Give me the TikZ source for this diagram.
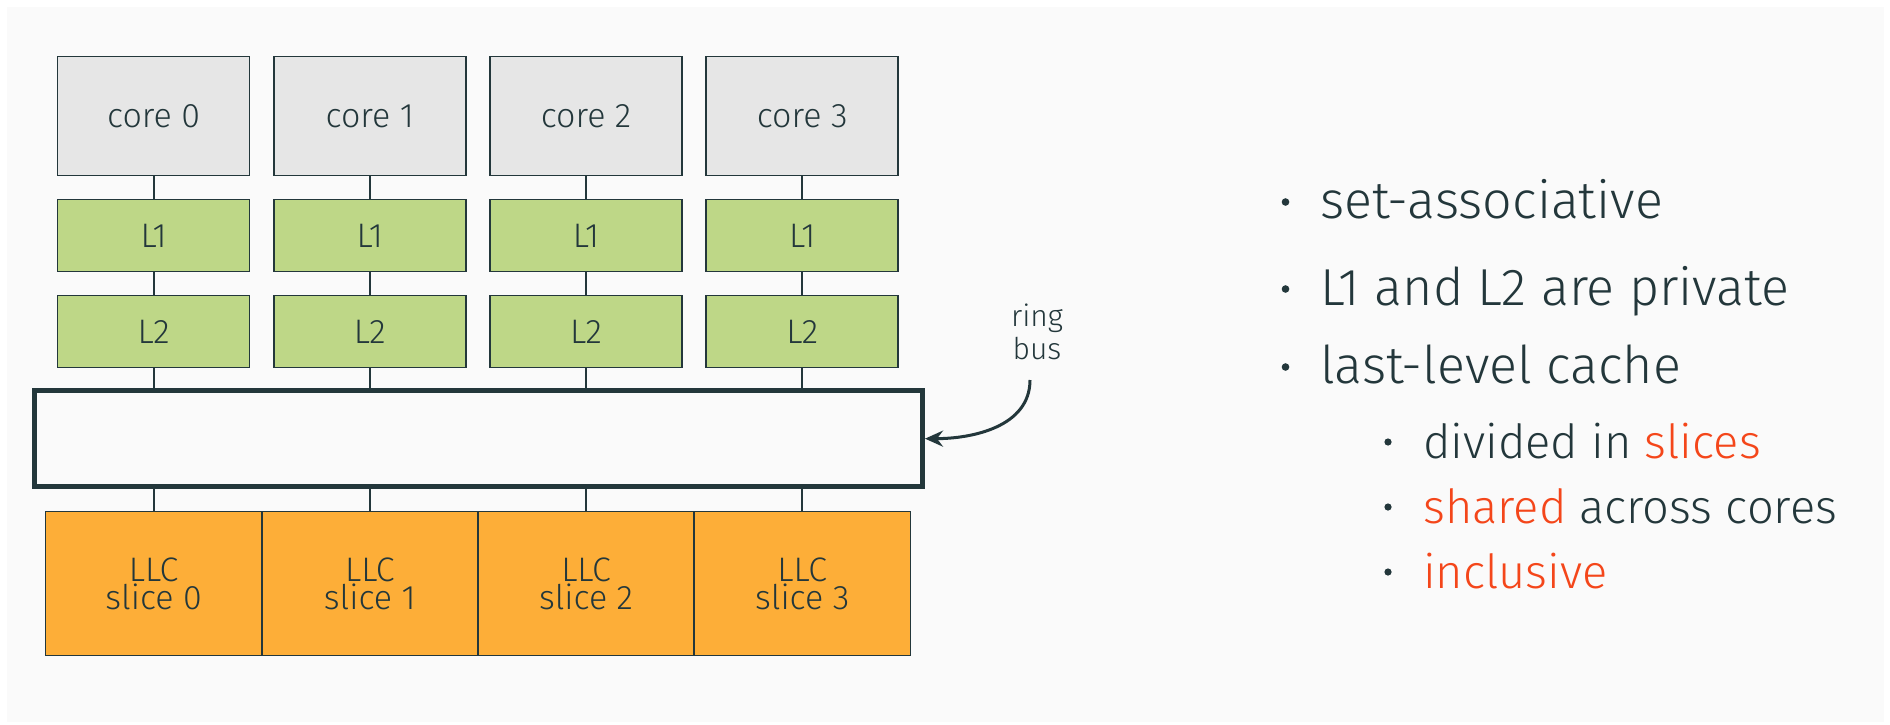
\documentclass[tikz,border=0pt]{standalone}
\usepackage{fontspec}
\setmainfont{Fira Sans Light}
\usetikzlibrary{arrows.meta}
\definecolor{ink}{HTML}{23373B}
\definecolor{pagebg}{HTML}{FAFAFA}
\definecolor{coregray}{HTML}{E6E6E6}
\definecolor{cachegreen}{HTML}{BED787}
\definecolor{llcorange}{HTML}{FDAE38}
\definecolor{alert}{HTML}{F4461A}
\newcommand\setfs[2]{\fontsize{#1}{#2}\selectfont}
\tikzset{
  unit/.style={draw=ink, line width=1.6pt, text=ink, inner sep=0pt,
    font=\setfs{34}{28}, align=center},
  corebox/.style={unit, fill=coregray, minimum width=192, minimum height=119},
  cachebox/.style={unit, fill=cachegreen, minimum width=192, minimum height=72},
  llcbox/.style={unit, fill=llcorange, minimum width=216.2, minimum height=144},
  wire/.style={draw=ink, line width=1.8pt},
  bigitem/.style={anchor=base west, inner sep=0pt, text=ink, font=\setfs{52}{60}},
  subitem/.style={anchor=base west, inner sep=0pt, text=ink, font=\setfs{47}{56}},
  dot/.style={fill=ink}
}
\begin{document}
\begin{tikzpicture}[x=1pt,y=-1pt]
\useasboundingbox (0,0) rectangle (1890,724);
\fill[white] (0,0) rectangle (1890,724);
\fill[pagebg] (7,7) rectangle (1884,722);

% ring bus
\node[draw=ink, line width=5pt, minimum width=888.3, minimum height=95.7, inner sep=0pt]
  (ring) at (478.35,438.65) {};

% per-core stacks and LLC slices
\foreach \i in {0,1,2,3} {
  \pgfmathsetmacro\cx{153.6+216.2*\i}
  \node[corebox]  (core\i) at (\cx,116)   {core \i};
  \node[cachebox] (lone\i) at (\cx,235.5) {L1};
  \node[cachebox] (ltwo\i) at (\cx,331.5) {L2};
  \node[llcbox]   (llc\i)  at (\cx,583.5) {LLC\\slice \i};
  \draw[wire] (core\i) -- (lone\i);
  \draw[wire] (lone\i) -- (ltwo\i);
  \draw[wire] (ltwo\i) -- (ltwo\i |- ring.north);
  \draw[wire] (llc\i |- ring.south) -- (llc\i);
}

% ring bus label and pointer
\node[text=ink, inner sep=0pt, align=center, font=\setfs{30}{33}, anchor=base]
  (ringlabel) at (1037,359) {ring\\bus};
\coordinate (arrstart) at (1030,380);
\draw[ink, line width=3pt, -{Stealth[length=18pt,width=16pt,inset=6pt]}]
  (arrstart) to[out=-90,in=0] (ring.east);

% bullet list
\fill[dot] (1285.5,202) circle (3.8);
\fill[dot] (1285.5,289) circle (3.8);
\fill[dot] (1285.5,367) circle (3.8);
\fill[dot] (1388,442) circle (3.6);
\fill[dot] (1388,507) circle (3.6);
\fill[dot] (1388,572) circle (3.6);
\node[bigitem] (itA) at (1320,218) {set-associative};
\node[bigitem] (itB) at (1320,305) {L1 and L2 are private};
\node[bigitem] (itC) at (1320,383) {last-level cache};
\node[subitem] (itD) at (1423,458) {divided in \textcolor{alert}{slices}};
\node[subitem] (itE) at (1423,523) {\textcolor{alert}{shared} across cores};
\node[subitem] (itF) at (1423,588) {\textcolor{alert}{inclusive}};
\end{tikzpicture}
\end{document}
